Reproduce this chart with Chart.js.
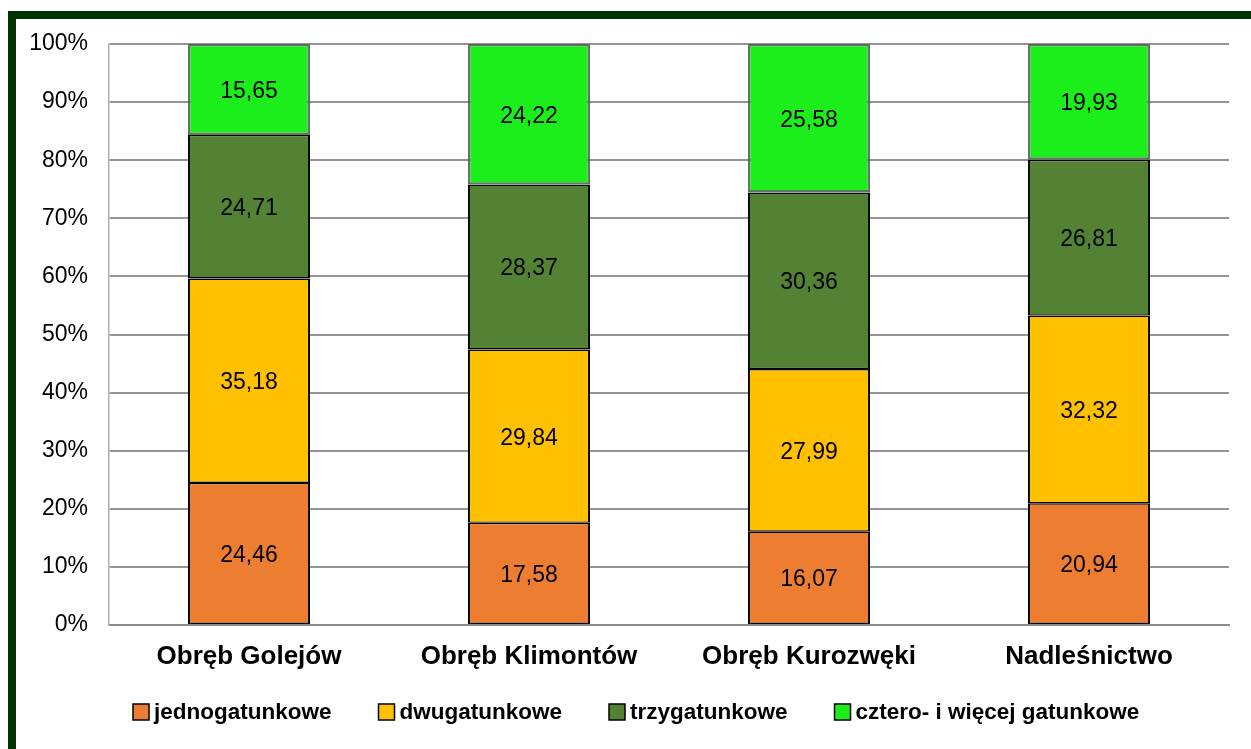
<!DOCTYPE html>
<html><head><meta charset="utf-8">
<script src="https://cdn.jsdelivr.net/npm/chart.js@4.4.0/dist/chart.umd.min.js"></script>
<style>
html,body{margin:0;padding:0;background:#fff;width:1251px;height:749px;overflow:hidden}
#frame{position:absolute;left:8px;top:11px;width:1300px;height:800px;border-left:8px solid #003300;border-top:8px solid #003300;box-sizing:border-box}
#wrap{position:absolute;left:0;top:0;width:1251px;height:749px}
</style></head><body>
<div id="frame"></div>
<div id="wrap"><canvas id="c" width="1251" height="749"></canvas></div>
<script>
const categories = ['Obręb Golejów', 'Obręb Klimontów', 'Obręb Kurozwęki', 'Nadleśnictwo'];
const seriesNames = ['jednogatunkowe', 'dwugatunkowe', 'trzygatunkowe', 'cztero- i więcej gatunkowe'];
const jednogatunkowe = [24.46, 17.58, 16.07, 20.94];
const dwugatunkowe = [35.18, 29.84, 27.99, 32.32];
const trzygatunkowe = [24.71, 28.37, 30.36, 26.81];
const czteroIWiecej = [15.65, 24.22, 25.58, 19.93];
const yTickValues = [0, 10, 20, 30, 40, 50, 60, 70, 80, 90, 100];

const seriesColors = ['#ED7D31', '#FFC000', '#548235', '#1CEE1C'];
const seriesBorders = ['#000000', '#000000', '#000000', 'rgba(70,95,70,0.85)'];
const seriesValues = [jednogatunkowe, dwugatunkowe, trzygatunkowe, czteroIWiecej];

const BOLD = "'Liberation Sans', Arial, sans-serif";
const REG = "'Liberation Sans', Arial, sans-serif";

const valueLabels = {
  id: 'valueLabels',
  afterDatasetsDraw(chart) {
    const ctx = chart.ctx;
    ctx.save();
    ctx.font = "23px " + REG;
    ctx.fillStyle = '#000';
    ctx.textAlign = 'center';
    ctx.textBaseline = 'middle';
    chart.data.datasets.forEach((ds, i) => {
      const meta = chart.getDatasetMeta(i);
      meta.data.forEach((el, j) => {
        const v = ds.data[j];
        const yc = (el.y + el.base) / 2;
        ctx.fillText(v.toFixed(2).replace('.', ','), el.x, yc + 2);
      });
    });
    ctx.restore();
  }
};

const customLegend = {
  id: 'customLegend',
  afterDraw(chart) {
    const ctx = chart.ctx;
    ctx.save();
    ctx.font = "bold 22.5px " + BOLD;
    ctx.textBaseline = 'middle';
    ctx.textAlign = 'left';
    let x = 133;
    const yc = chart.chartArea.bottom + 87;
    const box = 16, gap = 5, spacing = 47;
    chart.data.datasets.forEach((ds, i) => {
      ctx.fillStyle = ds.backgroundColor;
      ctx.fillRect(x, yc - box / 2, box, box);
      ctx.lineWidth = 1.5;
      ctx.strokeStyle = '#000';
      ctx.strokeRect(x, yc - box / 2, box, box);
      ctx.fillStyle = '#000';
      ctx.fillText(ds.label, x + box + gap, yc + 1);
      x += box + gap + ctx.measureText(ds.label).width + spacing;
    });
    ctx.restore();
  }
};

new Chart(document.getElementById('c'), {
  type: 'bar',
  data: {
    labels: categories,
    datasets: seriesNames.map((n, i) => ({
      label: n,
      data: seriesValues[i],
      backgroundColor: seriesColors[i],
      borderColor: seriesBorders[i],
      borderWidth: i === 3 ? 2.5 : { top: 1.4, bottom: 1.4, left: 2, right: 2 },
      borderSkipped: false,
      inflateAmount: 0,
      categoryPercentage: 1,
      barPercentage: 0.436
    }))
  },
  options: {
    responsive: false,
    animation: false,
    devicePixelRatio: 1,
    layout: { padding: { left: 0, right: 22, top: 44, bottom: 49 } },
    plugins: { legend: { display: false }, tooltip: { enabled: false } },
    scales: {
      x: {
        stacked: true,
        grid: { display: false, drawTicks: false },
        border: { display: true, color: '#8a8a8a', width: 2 },
        ticks: { color: '#000', font: { family: BOLD, size: 26, weight: 'bold' }, padding: 16, maxRotation: 0, minRotation: 0, autoSkip: false },
        afterFit(s) { s.height = 75; }
      },
      y: {
        stacked: true,
        min: 0, max: 100,
        afterBuildTicks(s) { s.ticks = yTickValues.map(v => ({ value: v })); },
        grid: { color: '#959595', lineWidth: 2, drawTicks: false },
        border: { display: true, color: '#b0b0b0', width: 1.5 },
        ticks: { color: '#000', font: { family: REG, size: 23 }, padding: 21, callback: v => v + '%' },
        afterFit(s) { s.width = 109; }
      }
    }
  },
  plugins: [valueLabels, customLegend]
});
</script>
</body></html>
